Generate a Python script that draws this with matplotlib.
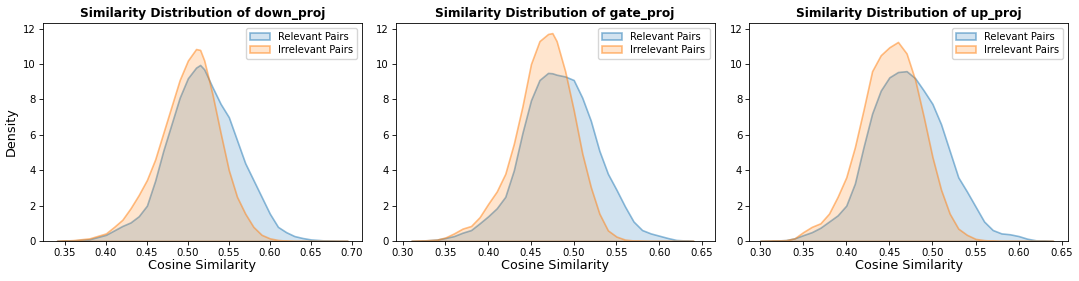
import numpy as np
import matplotlib
matplotlib.use("Agg")
import matplotlib.pyplot as plt

# KDE curves (density vs cosine similarity)
titles = ["down_proj", "gate_proj", "up_proj"]

x_down = [0.340, 0.360, 0.380, 0.400, 0.410, 0.420, 0.430, 0.440, 0.450, 0.460,
          0.470, 0.480, 0.490, 0.500, 0.510, 0.515, 0.520, 0.530, 0.540, 0.550,
          0.560, 0.570, 0.580, 0.590, 0.600, 0.610, 0.620, 0.630, 0.640, 0.650,
          0.670, 0.695]
rel_down = [0.0, 0.03, 0.10, 0.35, 0.60, 0.85, 1.05, 1.40, 2.0, 3.4,
            5.1, 6.6, 8.1, 9.2, 9.8, 9.95, 9.7, 8.7, 7.75, 7.0,
            5.7, 4.4, 3.45, 2.5, 1.55, 0.8, 0.5, 0.28, 0.17, 0.09,
            0.02, 0.0]
irr_down = [0.0, 0.05, 0.15, 0.43, 0.80, 1.2, 1.85, 2.6, 3.45, 4.6,
            6.1, 7.6, 9.1, 10.2, 10.85, 10.8, 10.2, 8.3, 6.1, 4.0,
            2.5, 1.55, 0.8, 0.35, 0.15, 0.06, 0.02, 0.0, 0.0, 0.0,
            0.0, 0.0]

x_gate = [0.31, 0.32, 0.34, 0.35, 0.36, 0.37, 0.38, 0.39, 0.40, 0.41,
          0.42, 0.43, 0.44, 0.45, 0.46, 0.47, 0.475, 0.48, 0.49, 0.50,
          0.51, 0.52, 0.53, 0.54, 0.55, 0.56, 0.57, 0.58, 0.59, 0.60,
          0.61, 0.62, 0.64]
rel_gate = [0.0, 0.01, 0.08, 0.17, 0.28, 0.47, 0.62, 1.0, 1.4, 1.85,
            2.5, 4.0, 6.1, 7.95, 9.1, 9.5, 9.48, 9.4, 9.3, 9.1,
            8.1, 6.8, 5.1, 3.8, 2.9, 1.95, 1.1, 0.62, 0.43, 0.3,
            0.17, 0.06, 0.0]
irr_gate = [0.0, 0.02, 0.08, 0.2, 0.43, 0.7, 0.85, 1.35, 2.1, 2.8,
            3.8, 5.5, 7.6, 10.0, 11.3, 11.7, 11.75, 11.3, 9.6, 7.4,
            4.95, 3.05, 1.55, 0.6, 0.25, 0.08, 0.03, 0.01, 0.0, 0.0,
            0.0, 0.0, 0.0]

x_up = [0.30, 0.31, 0.33, 0.34, 0.35, 0.36, 0.37, 0.38, 0.39, 0.40,
        0.41, 0.42, 0.43, 0.44, 0.45, 0.46, 0.47, 0.48, 0.49, 0.50,
        0.51, 0.52, 0.53, 0.54, 0.55, 0.56, 0.57, 0.58, 0.59, 0.60,
        0.61, 0.62, 0.64]
rel_up = [0.0, 0.01, 0.05, 0.15, 0.33, 0.5, 0.75, 1.1, 1.45, 2.0,
          3.25, 5.3, 7.2, 8.5, 9.25, 9.55, 9.6, 9.2, 8.5, 7.75,
          6.6, 5.1, 3.6, 2.8, 1.95, 1.1, 0.62, 0.43, 0.38, 0.28,
          0.13, 0.04, 0.0]
irr_up = [0.0, 0.01, 0.05, 0.15, 0.5, 0.8, 1.0, 1.55, 2.5, 3.6,
          5.3, 7.4, 9.6, 10.5, 10.95, 11.25, 10.6, 9.1, 7.0, 4.75,
          2.9, 1.55, 0.7, 0.35, 0.12, 0.05, 0.02, 0.0, 0.0, 0.0,
          0.0, 0.0, 0.0]

xs = [x_down, x_gate, x_up]
rels = [rel_down, rel_gate, rel_up]
irrs = [irr_down, irr_gate, irr_up]
xlims = [(0.3228, 0.7122), (0.2918, 0.6648), (0.2872, 0.6573)]
xticks = [np.arange(0.35, 0.701, 0.05), np.arange(0.30, 0.651, 0.05), np.arange(0.30, 0.651, 0.05)]

blue = "#1f77b4"
orange = "#ff7f0e"

fig = plt.figure(figsize=(10.79, 2.81), dpi=100)
lefts = [0.0396, 0.3667, 0.6942]
for i in range(3):
    ax = fig.add_axes([lefts[i], 0.1423, 0.2956, 0.777])
    for y, c, lab in [(rels[i], blue, "Relevant Pairs"), (irrs[i], orange, "Irrelevant Pairs")]:
        ax.fill_between(xs[i], y, 0, facecolor=matplotlib.colors.to_rgba(c, 0.2),
                        edgecolor=matplotlib.colors.to_rgba(c, 0.5), linewidth=1.2, label=lab)
    ax.set_xlim(*xlims[i])
    ax.set_ylim(0, 12.34)
    ax.set_xticks(xticks[i])
    ax.set_xticklabels([f"{t:.2f}" for t in xticks[i]])
    ax.set_yticks([0, 2, 4, 6, 8, 10, 12])
    ax.tick_params(labelsize=7.3, length=2.8, width=0.6, pad=2)
    for s in ax.spines.values():
        s.set_linewidth(0.6)
    ax.set_title(f"Similarity Distribution of {titles[i]}", fontsize=8.8, fontweight="bold", pad=4)
    ax.set_xlabel("Cosine Similarity", fontsize=9.2, labelpad=1)
    if i == 0:
        ax.set_ylabel("Density", fontsize=9.2, labelpad=4)
    ax.legend(loc="upper right", fontsize=7.2, handlelength=2.0, framealpha=0.8,
              borderpad=0.4, labelspacing=0.3)

fig.savefig("out.png", dpi=100)
